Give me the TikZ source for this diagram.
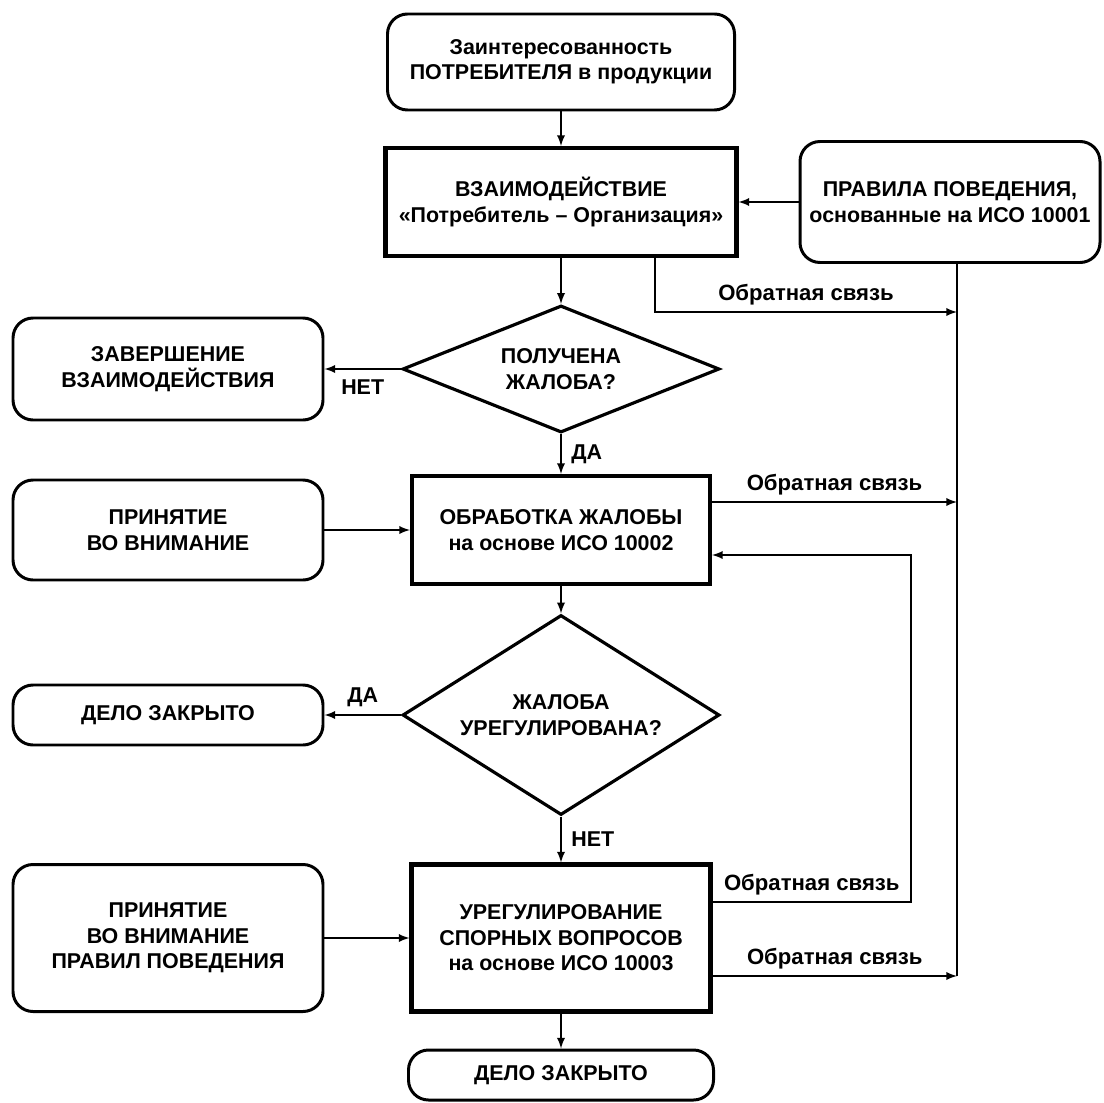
\documentclass[tikz,border=0pt]{standalone}
\usepackage{fontspec}
\setmainfont{Liberation Sans}
\usetikzlibrary{arrows,shapes.geometric,positioning}

\begin{document}
\begin{tikzpicture}[>=latex,line width=1.1pt,node distance=3cm,on grid,
	font=\bfseries\fontsize{12.2}{14.5}\selectfont]
	\tikzstyle{rbox}=[draw,rounded corners=0.4cm,line width=1.7pt,align=center,minimum width=6.2cm]
	\tikzstyle{sbox}=[draw,line width=2.3pt,align=center]
	\tikzstyle{ask}=[draw,diamond,line width=1.8pt,align=center,inner sep=0pt,minimum width=6.34cm]
	\tikzstyle{fb}=[font=\bfseries\fontsize{12.6}{14}\selectfont]

	\useasboundingbox (0,0) rectangle (22.08,-22.06);

	% main column
	\node[rbox,minimum width=6.94cm,minimum height=1.92cm] (interest) at (11.22,-1.24)
		{Заинтересованность\\ПОТРЕБИТЕЛЯ в продукции};
	\node[sbox,minimum width=7.02cm,minimum height=2.16cm] (dialog) [below=2.8cm of interest]
		{ВЗАИМОДЕЙСТВИЕ\\«Потребитель – Организация»};
	\node[rbox,minimum width=6.0cm,minimum height=2.42cm] (rules) [right=7.78cm of dialog]
		{ПРАВИЛА ПОВЕДЕНИЯ,\\основанные на ИСО 10001};
	\node[ask,aspect=2.5,minimum height=2.54cm] (got) [below=3.34cm of dialog]
		{ПОЛУЧЕНА\\ЖАЛОБА?};
	\node[sbox,minimum width=5.96cm,minimum height=2.16cm] (handle) [below=3.22cm of got]
		{ОБРАБОТКА ЖАЛОБЫ\\на основе ИСО 10002};
	\node[ask,aspect=1.585,minimum height=4.0cm] (settled) [below=3.7cm of handle]
		{ЖАЛОБА\\УРЕГУЛИРОВАНА?};
	\node[sbox,minimum width=5.98cm,minimum height=2.94cm] (resolve) [below=4.46cm of settled]
		{УРЕГУЛИРОВАНИЕ\\СПОРНЫХ ВОПРОСОВ\\на основе ИСО 10003};
	\node[rbox,minimum width=6.1cm,minimum height=1.0cm] (closedB) [below=2.74cm of resolve]
		{ДЕЛО ЗАКРЫТО};

	% left column
	\node[rbox,minimum height=2.04cm] (finish)      [left=7.86cm of got]     {ЗАВЕРШЕНИЕ\\ВЗАИМОДЕЙСТВИЯ};
	\node[rbox,minimum height=2.0cm]  (attend)      [left=7.86cm of handle]  {ПРИНЯТИЕ\\ВО ВНИМАНИЕ};
	\node[rbox,minimum height=1.2cm]  (closedA)     [left=7.86cm of settled] {ДЕЛО ЗАКРЫТО};
	\node[rbox,minimum height=2.94cm] (attendrules) [left=7.86cm of resolve] {ПРИНЯТИЕ\\ВО ВНИМАНИЕ\\ПРАВИЛ ПОВЕДЕНИЯ};

	\draw[->] (interest) -- (dialog);
	\draw[->] (rules) -- (dialog);
	\draw[->] (dialog) -- (got);
	\draw[->] (got) -- node[below=2pt] {НЕТ} (finish);
	\draw[->] (got) -- node[right=2pt] {ДА} (handle);
	\draw[->] (attend) -- (handle);
	\draw[->] (handle) -- (settled);
	\draw[->] (settled) -- node[above=1pt] {ДА} (closedA);
	\draw[->] (settled) -- node[right=2pt] {НЕТ} (resolve);
	\draw[->] (attendrules) -- (resolve);
	\draw[->] (resolve) -- (closedB);

	% feedback
	\coordinate (railtop) at ([xshift=0.14cm]rules.south);
	\coordinate (loopx)   at ([xshift=-0.92cm]railtop);
	\coordinate (fbA) at ([xshift=1.88cm]dialog.south);
	\coordinate (rA)  at ([yshift=-0.96cm]railtop);
	\coordinate (fbB) at ([yshift=0.56cm]handle.east);
	\coordinate (back) at ([yshift=-0.5cm]handle.east);
	\coordinate (fbC) at ([yshift=0.72cm]resolve.east);
	\coordinate (fbD) at ([yshift=-0.76cm]resolve.east);

	\draw (railtop) -- (fbD -| railtop);
	\draw[->] (fbA) |- node[fb,above,pos=0.75] {Обратная связь} (rA);
	\draw[->] (fbB) -- node[fb,above] {Обратная связь} (fbB -| railtop);
	\draw[->] (fbC) -- node[fb,above] {Обратная связь} (fbC -| loopx) |- (back);
	\draw[->] (fbD) -- node[fb,above] {Обратная связь} (fbD -| railtop);
\end{tikzpicture}
\end{document}
